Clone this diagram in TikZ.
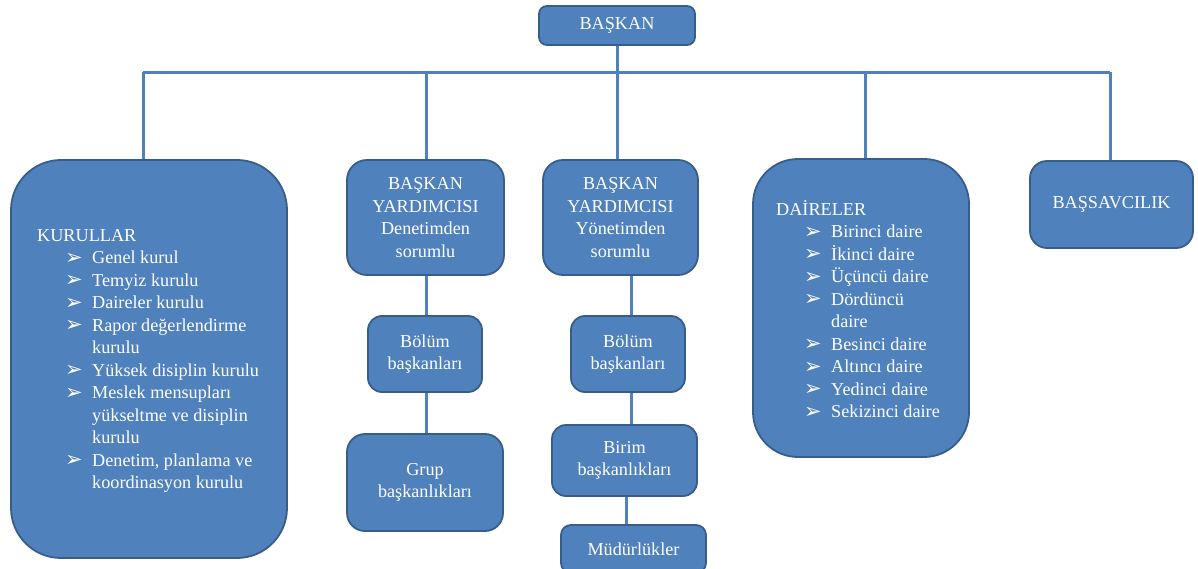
\documentclass[tikz,border=0pt]{standalone}
\usepackage{fontspec}
\setmainfont{Liberation Serif}
\newfontfamily\djv{DejaVu Sans}
\definecolor{boxfill}{HTML}{4F81BD}
\definecolor{boxline}{HTML}{385D8A}
\newcommand\bl{\hspace*{28pt}\makebox[27pt][l]{\raisebox{-0.5pt}{\djv\fontsize{21}{21}\selectfont ➢}}}
\newcommand\cn{\hspace*{55pt}}
\begin{document}
\begin{tikzpicture}[x=1pt,y=-1pt,
  box/.style={draw=boxline, fill=boxfill, line width=1.8pt, text=white, align=center,
    inner sep=0pt, font=\fontsize{18.2}{22.5}\selectfont},
  listtext/.style={text=white, align=left, inner sep=0pt, anchor=west,
    font=\fontsize{18.2}{22.5}\selectfont},
  conn/.style={draw=boxfill, line width=3pt}]
\useasboundingbox (0,0) rectangle (1198,569);

% boxes
\node[box, rounded corners=8pt, minimum width=156pt, minimum height=39pt] (baskan) at (617,25.5) {BAŞKAN};
\node[box, rounded corners=50pt, minimum width=276pt, minimum height=398pt] (kurul) at (149,359) {};
\node[box, rounded corners=20pt, minimum width=157pt, minimum height=115pt] (by1) at (425.5,217.5) {BAŞKAN\\YARDIMCISI\\Denetimden\\sorumlu};
\node[box, rounded corners=20pt, minimum width=155pt, minimum height=115pt] (by2) at (620.5,217.5) {BAŞKAN\\YARDIMCISI\\Yönetimden\\sorumlu};
\node[box, rounded corners=14pt, minimum width=114pt, minimum height=76pt] (bol1) at (425,354) {Bölüm\\başkanları};
\node[box, rounded corners=18pt, minimum width=156pt, minimum height=97pt] (grup) at (425,482.5) {Grup\\başkanlıkları};
\node[box, rounded corners=14pt, minimum width=114pt, minimum height=76pt] (bol2) at (628,354) {Bölüm\\başkanları};
\node[box, rounded corners=14pt, minimum width=145pt, minimum height=71pt] (birim) at (624.5,460.5) {Birim\\başkanlıkları};
\node[box, rounded corners=10pt, minimum width=145pt, minimum height=48pt] (mud) at (633.5,549) {Müdürlükler};
\node[box, rounded corners=45pt, minimum width=216pt, minimum height=298pt] (daire) at (861,308) {};
\node[box, rounded corners=17pt, minimum width=163pt, minimum height=87pt] (bsav) at (1111.5,204.5) {BAŞSAVCILIK};

% list texts
\node[listtext] (kurulT) at (37,361) {KURULLAR\\
\bl Genel kurul\\
\bl Temyiz kurulu\\
\bl Daireler kurulu\\
\bl Rapor değerlendirme\\
\cn kurulu\\
\bl Yüksek disiplin kurulu\\
\bl Meslek mensupları\\
\cn yükseltme ve disiplin\\
\cn kurulu\\
\bl Denetim, planlama ve\\
\cn koordinasyon kurulu};
\node[listtext] (daireT) at (776,309) {DAİRELER\\
\bl Birinci daire\\
\bl İkinci daire\\
\bl Üçüncü daire\\
\bl Dördüncü\\
\cn daire\\
\bl Besinci daire\\
\bl Altıncı daire\\
\bl Yedinci daire\\
\bl Sekizinci daire};

% connectors
\coordinate (tl) at (143,72.5);
\coordinate (tr) at (1110,72.5);
\coordinate (t1) at (426,72.5);
\coordinate (t4) at (865,72.5);
\draw[conn] (tl) -- (tr);
\draw[conn] (baskan.south) -- (baskan.south |- by2.north);
\draw[conn] (tl) -- (tl |- kurul.north);
\draw[conn] (t1) -- (t1 |- by1.north);
\draw[conn] (t4) -- (t4 |- daire.north);
\draw[conn] (tr) -- (tr |- bsav.north);
\draw[conn] ([xshift=0.5pt]by1.south) -- ([xshift=1pt]bol1.north);
\draw[conn] ([xshift=1pt]bol1.south) -- ([xshift=1pt]grup.north);
\draw[conn] ([xshift=10.5pt]by2.south) -- ([xshift=3pt]bol2.north);
\draw[conn] ([xshift=3pt]bol2.south) -- ([xshift=6.5pt]birim.north);
\draw[conn] ([xshift=1.5pt]birim.south) -- ([xshift=-7.5pt]mud.north);
\end{tikzpicture}
\end{document}
